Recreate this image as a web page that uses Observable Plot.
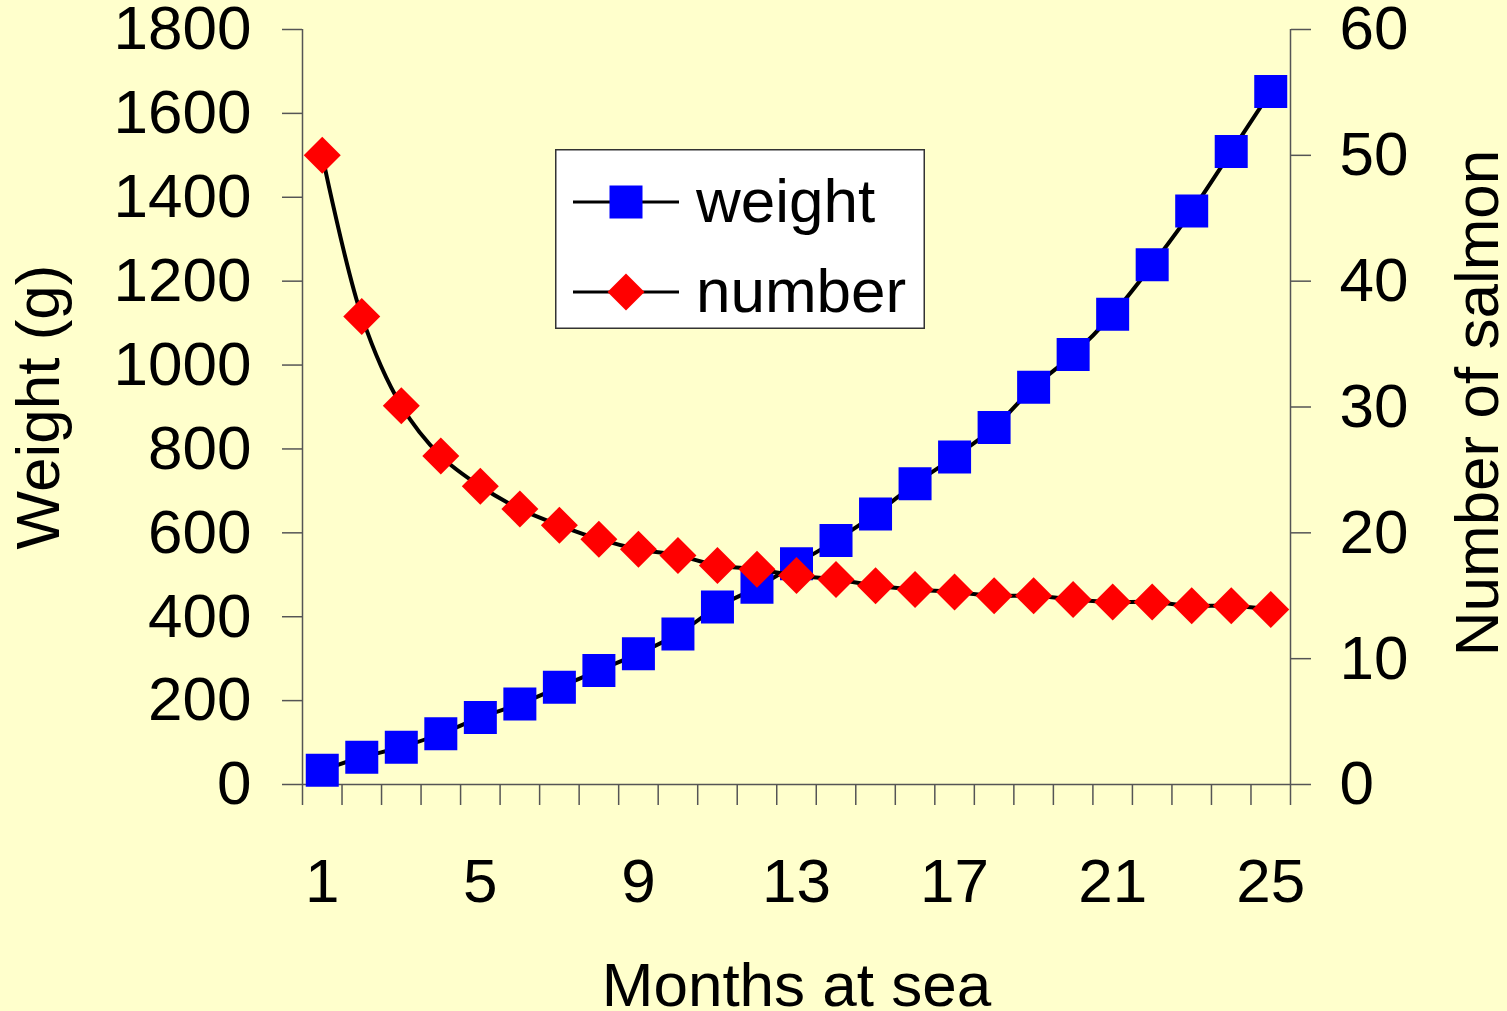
<!DOCTYPE html>
<html>
<head>
<meta charset="utf-8">
<script src="https://cdn.jsdelivr.net/npm/d3@7"></script>
<script src="https://cdn.jsdelivr.net/npm/@observablehq/plot@0.6"></script>
<style>
  html, body { margin: 0; padding: 0; background: #FFFFCC; }
  #chart { position: relative; width: 1507px; height: 1011px; background: #FFFFCC; overflow: hidden; }
  #chart svg { display: block; }
  #legend { position: absolute; left: 555px; top: 149px; }
</style>
</head>
<body>
<div id="chart"></div>
<script>
// Salmon growth and survival over months at sea
const months = [1, 2, 3, 4, 5, 6, 7, 8, 9, 10, 11, 12, 13, 14, 15, 16, 17, 18, 19, 20, 21, 22, 23, 24, 25];
const weight = [34, 65, 89, 121, 160, 192, 232, 272, 312, 359, 423, 470, 526, 582, 645, 717, 781, 851, 947, 1025, 1121, 1239, 1367, 1509, 1652];
const number = [50, 37.2, 30.1, 26.1, 23.7, 21.9, 20.6, 19.5, 18.7, 18.2, 17.4, 17.1, 16.6, 16.3, 15.8, 15.5, 15.3, 15.0, 15.0, 14.7, 14.5, 14.5, 14.2, 14.2, 13.9];

const weightTicks = [0, 200, 400, 600, 800, 1000, 1200, 1400, 1600, 1800];
const numberTicks = [0, 10, 20, 30, 40, 50, 60];
const monthLabels = [1, 5, 9, 13, 17, 21, 25];

const seriesNames = ["weight", "number"];
const seriesColors = ["#0000FF", "#FF0000"];

// The right axis shares the left scale: 60 salmon sits level with 1800 g
const k = weightTicks[weightTicks.length - 1] / numberTicks[numberTicks.length - 1];

const rows = months.map((m, i) => ({month: m, weight: weight[i], number: number[i]}));
// category boundaries for the tick marks between months
const bounds = months.map(m => m - 0.5).concat([months[months.length - 1] + 0.5]);

// Marker shapes
const squareSymbol = side => ({
  draw(ctx) { const h = side / 2; ctx.moveTo(-h, -h); ctx.lineTo(h, -h); ctx.lineTo(h, h); ctx.lineTo(-h, h); ctx.closePath(); }
});
const diamondSymbol = diag => ({
  draw(ctx) { const h = diag / 2; ctx.moveTo(0, -h); ctx.lineTo(h, 0); ctx.lineTo(0, h); ctx.lineTo(-h, 0); ctx.closePath(); }
});
const sq = squareSymbol(33);
const dm = diamondSymbol(37);

const axisColor = "#555";
const font = "'Liberation Sans', Arial, sans-serif";
const fs = 62;
const seriesLine = {curve: "catmull-rom", stroke: "black", strokeWidth: 4, strokeLinejoin: "round"};

const chart = Plot.plot({
  width: 1507,
  height: 1011,
  marginLeft: 302,
  marginRight: 217,
  marginTop: 29,
  marginBottom: 227,
  x: {domain: [bounds[0], bounds[bounds.length - 1]]},
  y: {domain: [weightTicks[0], weightTicks[weightTicks.length - 1]]},
  style: {background: "#FFFFCC", fontFamily: font, color: "black", overflow: "visible"},
  marks: [
    // frame lines
    Plot.ruleY([0], {stroke: axisColor, strokeWidth: 1.5}),
    Plot.ruleX([bounds[0]], {stroke: axisColor, strokeWidth: 1.5}),
    Plot.ruleX([bounds[bounds.length - 1]], {stroke: axisColor, strokeWidth: 1.5}),
    // left axis: weight
    Plot.axisY(weightTicks, {anchor: "left", tickSize: 20, tickPadding: 31, fontSize: fs, stroke: axisColor, strokeWidth: 1.5, fill: "black", tickFormat: d => String(d), label: null}),
    // right axis: number of salmon
    Plot.axisY(numberTicks.map(v => v * k), {anchor: "right", tickSize: 20, tickPadding: 29, fontSize: fs, stroke: axisColor, strokeWidth: 1.5, fill: "black", tickFormat: d => String(Math.round(d / k)), label: null}),
    // month axis: tick marks between categories, labels every fourth month
    Plot.axisX(bounds, {anchor: "bottom", tickSize: 21, stroke: axisColor, strokeWidth: 1.5, tickFormat: () => "", label: null}),
    Plot.axisX(monthLabels, {anchor: "bottom", tickSize: 0, tickPadding: 73, fontSize: fs, fill: "black", tickFormat: d => String(d), label: null}),
    // axis titles
    Plot.text(["Weight (g)"], {frameAnchor: "left", textAnchor: "middle", dx: -263, rotate: -90, fontSize: fs, fill: "black"}),
    Plot.text(["Number of salmon"], {frameAnchor: "right", textAnchor: "middle", dx: 188, dy: -4, rotate: -90, fontSize: fs, fill: "black"}),
    Plot.text(["Months at sea"], {frameAnchor: "bottom", lineAnchor: "bottom", dy: 221, fontSize: fs, fill: "black"}),
    // weight series
    Plot.line(rows, {x: "month", y: "weight", ...seriesLine}),
    Plot.dot(rows, {x: "month", y: "weight", symbol: sq, r: 18, fill: seriesColors[0], stroke: null}),
    // number series, drawn on the shared scale
    Plot.line(rows, {x: "month", y: d => d.number * k, ...seriesLine}),
    Plot.dot(rows, {x: "month", y: d => d.number * k, symbol: dm, r: 18, fill: seriesColors[1], stroke: null})
  ]
});

const host = document.getElementById("chart");
host.appendChild(chart);

// Legend box
const lw = 370, lh = 180;
const legend = d3.create("svg")
  .attr("id", "legend")
  .attr("width", lw)
  .attr("height", lh)
  .style("font-family", font);
legend.append("rect")
  .attr("x", 0.75).attr("y", 0.75)
  .attr("width", lw - 1.5).attr("height", lh - 1.5)
  .attr("fill", "white").attr("stroke", "#333").attr("stroke-width", 1.5);
const items = [
  {name: seriesNames[0], color: seriesColors[0], symbol: sq, cy: 53},
  {name: seriesNames[1], color: seriesColors[1], symbol: dm, cy: 143}
];
for (const it of items) {
  const g = legend.append("g").attr("transform", `translate(0,${it.cy})`);
  g.append("line").attr("x1", 18).attr("x2", 124).attr("y1", 0).attr("y2", 0)
    .attr("stroke", "black").attr("stroke-width", 3);
  g.append("path").attr("transform", "translate(71,0)")
    .attr("d", d3.symbol(it.symbol)())
    .attr("fill", it.color);
  g.append("text").attr("x", 141).attr("y", 20)
    .attr("font-size", fs).attr("fill", "black")
    .text(it.name);
}
host.appendChild(legend.node());
</script>
</body>
</html>
